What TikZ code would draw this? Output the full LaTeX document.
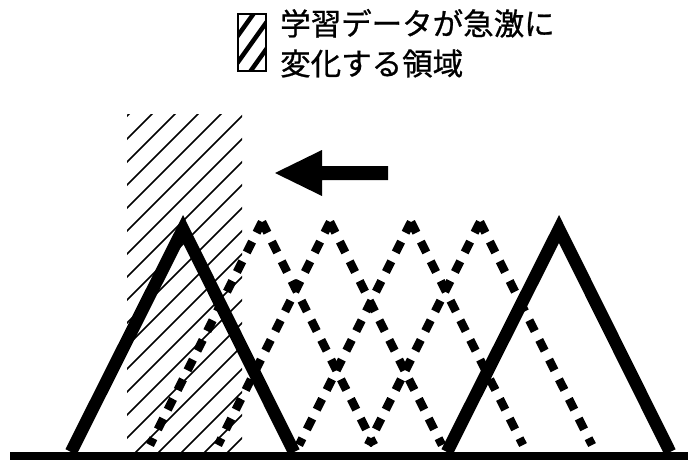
\documentclass[tikz,border=0pt]{standalone}
\usepackage{fontspec}
\newfontfamily\jpfont[FakeBold=0.8]{Noto Sans CJK JP}
\begin{document}
\begin{tikzpicture}[x=1pt,y=-1pt,
  solidtri/.style={line width=12.5pt, line join=miter, miter limit=10},
  dottri/.style={line width=8.5pt, dash pattern=on 12pt off 10pt},
  hatchline/.style={line width=1.6pt},
  legendtext/.style={anchor=base west, inner sep=0pt, font=\jpfont\fontsize{30.5}{36}\selectfont},
  boxframe/.style={line width=2.5pt},
  boxstripe/.style={line width=4.5pt}]
\useasboundingbox (0,0) rectangle (688,460);

% legend box
\begin{scope}
  \clip (238,14) rectangle (266,71);
  \foreach \d in {-19,0,19} {
    \draw[boxstripe] (252+\d-30,84.5) -- (252+\d+30,0.5);
  }
\end{scope}
\draw[boxframe] (238,14) rectangle (266,71);
\node[legendtext] (l1) at (280,35) {学習データが急激に};
\node[legendtext] (l2) at (280,75) {変化する領域};

% hatched region
\begin{scope}
  \clip (127,114) rectangle (242,452);
  \foreach \k in {-1,...,18} {
    \pgfmathsetmacro\c{266+23*\k}
    \draw[hatchline] (\c-460,460) -- (\c,0);
  }
\end{scope}

% arrow
\fill (388,166) -- (322,166) -- (322,150) -- (275,173) -- (322,196) -- (322,180) -- (388,180) -- cycle;

% dotted triangles
\foreach \a in {262,330,411,480} {
  \draw[dottri] (\a,222) -- (\a-112,445);
  \draw[dottri] (\a,222) -- (\a+112,445);
}

% solid triangles
\draw[solidtri] (71,452) -- (183,229) -- (294,452);
\draw[solidtri] (447,452) -- (559,229) -- (670,452);

% base line
\fill (10,452) rectangle (688,460);
\end{tikzpicture}
\end{document}
